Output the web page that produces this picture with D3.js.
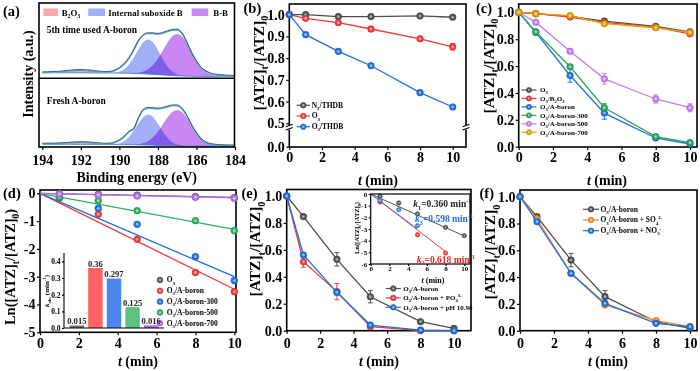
<!DOCTYPE html>
<html><head><meta charset="utf-8">
<script src="https://cdn.jsdelivr.net/npm/d3@7/dist/d3.min.js"></script>
<style>
html,body{margin:0;padding:0;background:#fff;}
svg{display:block;font-family:"Liberation Serif","Times New Roman",serif;font-weight:bold;}
</style></head><body>
<svg id="fig" width="700" height="371" viewBox="0 0 700 371"></svg>
<script>
// ================= DATA =================
// (a) XPS B 1s
const energy=[194,193.75,193.5,193.25,193,192.75,192.5,192.25,192,191.75,191.5,191.25,191,190.75,190.5,190.25,190,189.75,189.5,189.25,189,188.75,188.5,188.25,188,187.75,187.5,187.25,187,186.75,186.5,186.25,186,185.75,185.5,185.25,185,184.75,184.5,184.25,184];
const energyTicks=[194,192,190,188,186,184];
const xpsLegend=["B_{2}O_{3}","Internal suboxide B","B-B"];
const usedBackground=[4.3,4.3,4.3,4.2,4.2,4.2,4.2,4.1,4.1,4.1,4.1,4.0,4.0,4.0,4.0,3.9,3.9,3.8,3.7,3.6,3.4,3.2,2.9,2.6,2.3,2.0,1.7,1.4,1.2,1.0,0.8,0.7,0.6,0.55,0.5,0.5,0.45,0.4,0.4,0.35,0.3];
const usedRaw=[4.35,4.4,4.55,4.7,5.1,5.6,6.1,6.5,6.6,6.4,6.0,5.4,4.9,4.6,4.8,6.0,8.7,12.7,18.7,27,36.3,41.7,43.3,43.3,42.7,43.7,45.3,46.7,47,43.3,34.3,23.7,15.3,8.7,5.3,3.0,2.0,1.5,1.1,0.8,0.6];
const usedB2O3=[0.04,0.1,0.25,0.51,0.9,1.41,1.94,2.35,2.5,2.35,1.94,1.41,0.9,0.51,0.25,0.1,0.04,0,0,0,0,0,0,0,0,0,0,0,0,0,0,0,0,0,0,0,0,0,0,0,0];
const usedSuboxide=[0,0,0,0,0,0,0,0,0,0,0,0,0,0,0.14,0.49,1.5,4.0,8.6,15.9,24.5,31.8,34.7,31.8,24.5,15.9,8.6,4.0,1.5,0.49,0.14,0,0,0,0,0,0,0,0,0,0];
const usedBB=[0,0,0,0,0,0,0,0,0,0,0,0,0,0,0,0,0,0,0,0.32,0.88,2.2,4.8,9.3,16.0,24.3,32.9,39.4,41.9,39.4,32.9,24.3,16.0,9.3,4.8,2.2,0.88,0.32,0,0,0];
const freshBackground=[2.8,2.8,2.8,2.7,2.7,2.7,2.7,2.6,2.6,2.6,2.6,2.5,2.5,2.5,2.5,2.4,2.4,2.3,2.3,2.2,2.1,2.0,1.9,1.8,1.6,1.5,1.35,1.2,1.1,1.0,0.95,0.9,0.85,0.8,0.8,0.75,0.75,0.7,0.7,0.7,0.7];
const freshRaw=[2.85,2.9,3.0,3.1,3.35,3.7,4.0,4.3,4.4,4.3,4.0,3.6,3.2,2.9,3.0,4.0,6.5,10,15,18,29,37,38.7,38.5,38,38.7,40,41.2,41.2,38,31,21.5,13.7,7.5,4,2.5,1.8,1.5,1.3,1.2,1.1];
const freshB2O3=[0.03,0.07,0.18,0.37,0.65,1.01,1.4,1.69,1.8,1.69,1.4,1.01,0.65,0.37,0.18,0.07,0.03,0,0,0,0,0,0,0,0,0,0,0,0,0,0,0,0,0,0,0,0,0,0,0,0];
const freshSuboxide=[0,0,0,0,0,0,0,0,0,0,0,0,0,0,0.12,0.43,1.3,3.5,7.6,14.0,21.6,28.0,30.5,28.0,21.6,14.0,7.6,3.5,1.3,0.43,0.12,0,0,0,0,0,0,0,0,0,0];
const freshBB=[0,0,0,0,0,0,0,0,0,0,0,0,0,0,0,0,0,0,0,0.27,0.76,1.9,4.1,8.0,13.7,20.9,28.3,33.9,36,33.9,28.3,20.9,13.7,8.0,4.1,1.9,0.76,0.27,0,0,0];

// time axis shared by kinetic panels
const tMin=[0,1,3,5,8,10];
const tTicks=[0,2,4,6,8,10];

// (b)
const bLabels=["N_{2}/THDB","O_{3}","O_{3}/THDB"];
const bN2THDB=[1.0,1.0,0.991,0.991,0.994,0.988];
const bO3=[1.0,0.983,0.963,0.934,0.889,0.852];
const bO3THDB=[1.0,0.908,0.831,0.765,0.641,0.575];
const bErrO3=[0,0.004,0.005,0.012,0.006,0.015];
const bYTicks=[0,0.5,0.6,0.7,0.8,0.9,1.0];

// (c)
const cLabels=["O_{3}","O_{3}/B_{2}O_{3}","O_{3}/A-boron","O_{3}/A-boron-300","O_{3}/A-boron-500","O_{3}/A-boron-700"];
const cO3=[1,0.99,0.97,0.935,0.895,0.855];
const cB2O3=[1,0.99,0.965,0.925,0.89,0.84];
const cAB=[1,0.85,0.53,0.25,0.065,0.02];
const cAB300=[1,0.855,0.595,0.29,0.075,0.03];
const cAB500=[1,0.925,0.71,0.505,0.355,0.29];
const cAB700=[1,0.99,0.975,0.915,0.885,0.85];
const cErrAB=[0,0.01,0.05,0.045,0.01,0.01];
const cErrAB300=[0,0.01,0.01,0.03,0.01,0.01];
const cErrAB500=[0,0.01,0.01,0.04,0.03,0.03];
const fracTicks=[0,0.2,0.4,0.6,0.8,1.0];

// (d)
const dLabels=["O_{3}","O_{3}/A-boron","O_{3}/A-boron-300","O_{3}/A-boron-500","O_{3}/A-boron-700"];
const dT=[1,3,5,8,10];
const dO3=[-0.02,-0.04,-0.07,-0.12,-0.16];
const dAB=[-0.17,-0.755,-1.655,-2.85,-3.54];
const dAB300=[-0.16,-0.54,-1.115,-2.28,-3.14];
const dAB500=[-0.144,-0.264,-0.624,-0.983,-1.343];
const dAB700=[-0.024,-0.06,-0.096,-0.144,-0.18];
const dFitEnd=[-0.15,-3.45,-3.0,-1.3,-0.16];   // fitted ln value at t = 10
const dYTicks=[0,-1,-2,-3,-4,-5];
const kobs=[0.015,0.36,0.297,0.125,0.016];
const kobsText=["0.015","0.36","0.297","0.125","0.016"];
const kTicks=[0,0.1,0.2,0.3,0.4];

// (e)
const eLabels=["O_{3}/A-boron","O_{3}/A-boron + PO_{4}^{3-}","O_{3}/A-boron + pH 10.98"];
const eAB=[1,0.847,0.53,0.252,0.067,0.017];
const ePO4=[1,0.512,0.29,0.03,0.0,0.0];
const ePH=[1,0.562,0.285,0.042,0.005,0.0];
const eErrAB=[0,0.01,0.05,0.045,0.008,0.008];
const eErrPO4=[0,0.04,0.06,0.01,0,0];
const eErrPH=[0,0.015,0.02,0.01,0,0];
// (e) inset
const insT=[1,3,5,8,10];
const insAB=[-0.2,-0.77,-1.71,-2.86,-3.57];
const insPO4T=[1,5,8];
const insPO4=[-0.69,-3.49,-5.06];
const insPHT=[1,3,5];
const insPH=[-0.54,-1.34,-2.71];
const insFitAB=[0,10,-3.6];     // [t0,t1,value at t1]
const insFitPO4=[0,8,-4.94];
const insFitPH=[0,5,-2.99];
const insYTicks=[0,-1,-2,-3,-4,-5,-6];
const kText=["k_{1}=0.360 min^{-1}","k_{3}=0.598 min^{-1}","k_{2}=0.618 min^{-1}"];

// (f)
const fLabels=["O_{3}/A-boron","O_{3}/A-boron + SO_{4}^{2-}","O_{3}/A-boron + NO_{3}^{-}"];
const fAB=[1,0.851,0.527,0.254,0.067,0.017];
const fSO4=[1,0.833,0.428,0.192,0.075,0.03];
const fNO3=[1,0.813,0.428,0.204,0.055,0.03];
const fErrAB=[0,0.01,0.05,0.045,0.008,0.008];

// ================= HELPERS =================
const svg=d3.select("#fig");
const GRAY="#4f4f4f",RED="#f23a3a",BLUE="#1c6fe3",GREEN="#2fa55e",VIOLET="#c27ff0",GOLD="#e3a100",ORANGE="#f7901e";

function rich(sel,str,fs){
  let off=0;
  str.split(/(_\{[^}]*\}|\^\{[^}]*\}|\*[^*]*\*)/).filter(s=>s).forEach(p=>{
    let target=0,size=fs,txt=p,it=false;
    if(p[0]==="_"){target=fs*0.28;size=fs*0.66;txt=p.slice(2,-1);}
    else if(p[0]==="^"){target=-fs*0.42;size=fs*0.66;txt=p.slice(2,-1);}
    else if(p[0]==="*"){it=true;txt=p.slice(1,-1);}
    const ts=sel.append("tspan").attr("dy",target-off).attr("font-size",size).text(txt);
    if(it) ts.attr("font-style","italic");
    off=target;
  });
}
function txt(g,x,y,str,fs,o={}){
  const t=g.append("text").attr("x",x).attr("y",y).attr("font-size",fs).attr("fill",o.fill||"#000");
  if(o.anchor) t.attr("text-anchor",o.anchor);
  if(o.rot) t.attr("transform",`rotate(-90,${x},${y})`);
  rich(t,str,fs);
  return t;
}
function ylab(g,xc,yc,str,fs){ return txt(g,xc+fs*0.34,yc,str,fs,{anchor:"middle",rot:true}); }
function frame(g,b,w=1.6){
  g.append("rect").attr("x",b.x0).attr("y",b.y0).attr("width",b.x1-b.x0).attr("height",b.y1-b.y0)
   .attr("fill","none").attr("stroke","#000").attr("stroke-width",w);
}
function styleAxis(a,fs){
  a.attr("font-family",null).attr("font-size",fs);
  a.select(".domain").remove();
  a.selectAll("line").attr("stroke","#000").attr("stroke-width",1.2);
  a.selectAll("text").attr("fill","#000");
}
function axes(g,x,y,b,o){
  const fs=o.fs||14;
  const ax=g.append("g").attr("transform",`translate(0,${b.y1})`)
    .call(d3.axisBottom(x).tickValues(o.xt).tickSize(o.ts||3).tickPadding(o.xpad).tickFormat(o.xf||(d=>String(d))));
  styleAxis(ax,fs);
  if(o.yt){
    const ay=g.append("g").attr("transform",`translate(${b.x0},0)`)
      .call(d3.axisLeft(y).tickValues(o.yt).tickSize(o.ts||3).tickPadding(o.ypad||1.5).tickFormat(o.yf||(d=>String(d))));
    styleAxis(ay,fs);
  }
}
function marker(g,cx,cy,color,r=3.3){
  g.append("circle").attr("cx",cx).attr("cy",cy).attr("r",r).attr("fill",color)
    .attr("stroke",d3.color(color).darker(0.5)).attr("stroke-width",0.6);
  g.append("circle").attr("cx",cx).attr("cy",cy).attr("r",r*0.42).attr("fill","#fff").attr("fill-opacity",0.55);
}
function series(g,x,y,t,v,color,o={}){
  if(o.line!==false){
    g.append("path").datum(t.map((ti,i)=>[ti,v[i]]))
      .attr("d",d3.line().x(d=>x(d[0])).y(d=>y(d[1])))
      .attr("fill","none").attr("stroke",color).attr("stroke-width",o.lw||1.3);
  }
  if(o.err){
    t.forEach((ti,i)=>{
      const e=o.err[i]; if(!e) return;
      const cx=x(ti),a=y(v[i]-e),bb=y(v[i]+e);
      g.append("path").attr("d",`M${cx},${a}V${bb}M${cx-2.5},${a}h5M${cx-2.5},${bb}h5`)
        .attr("stroke",color).attr("stroke-width",1).attr("fill","none");
    });
  }
  t.forEach((ti,i)=>marker(g,x(ti),y(v[i]),color,o.r||3.3));
}
function legend(g,items,x,y0,dy,o){
  items.forEach((it,i)=>{
    const yy=y0+i*dy;
    if(o.half) g.append("line").attr("x1",x-o.half).attr("x2",x+o.half).attr("y1",yy).attr("y2",yy)
      .attr("stroke",it.color).attr("stroke-width",1.2);
    marker(g,x,yy,it.color,o.r||2.8);
    txt(g,x+o.tx,yy+o.fs*0.33,it.label,o.fs);
  });
}
function panelLabel(x,y,s){ txt(svg,x,y,s,14.5); }

// ================= (a) =================
(function(){
  const g=svg.append("g");
  const b={x0:39,x1:234.5,y0:3,y1:147};
  const x=d3.scaleLinear().domain([194,184]).range([42.3,235]);
  const yU=d3.scaleLinear().domain([0,50]).range([77,27]);
  const yL=d3.scaleLinear().domain([0,50]).range([147,97]);
  g.append("clipPath").attr("id","clipA").append("rect").attr("x",b.x0).attr("y",b.y0).attr("width",b.x1-b.x0).attr("height",b.y1-b.y0);
  const cg=g.append("g").attr("clip-path","url(#clipA)");
  const fills=["#f7a9a9","#a2aef6","#c987f4"];
  function spectrum(y,bg,raw,comps){
    comps.forEach((c,k)=>{
      const area=d3.area().x((d,i)=>x(energy[i])).y0((d,i)=>y(bg[i])).y1((d,i)=>y(bg[i]+c[i])).curve(d3.curveMonotoneX);
      cg.append("path").datum(c).attr("d",area).attr("fill",fills[k]).style("mix-blend-mode","multiply");
    });
    const ln=d3.line().x((d,i)=>x(energy[i])).y(d=>y(d)).curve(d3.curveMonotoneX);
    cg.append("path").datum(bg).attr("d",ln).attr("fill","none").attr("stroke","#3d7fd6").attr("stroke-width",0.8);
    cg.append("path").datum(raw).attr("d",ln).attr("fill","none").attr("stroke","#3fb7ea").attr("stroke-width",1.3);
    cg.append("path").datum(raw).attr("d",ln).attr("fill","none").attr("stroke","#333").attr("stroke-width",0.8).attr("transform","translate(0,-0.9)");
  }
  spectrum(yU,usedBackground,usedRaw,[usedB2O3,usedSuboxide,usedBB]);
  spectrum(yL,freshBackground,freshRaw,[freshB2O3,freshSuboxide,freshBB]);
  g.append("line").attr("x1",b.x0).attr("x2",b.x1).attr("y1",78.3).attr("y2",78.3).attr("stroke","#000").attr("stroke-width",1.5);
  frame(g,b);
  axes(g,x,null,b,{xt:energyTicks,xpad:5,fs:14});
  // legend
  const sw=[[43.3,58],[88.3,105],[191.7,208.3]], tx=[61.7,108.3,213.3];
  xpsLegend.forEach((l,i)=>{
    g.append("rect").attr("x",sw[i][0]).attr("y",8.5).attr("width",sw[i][1]-sw[i][0]).attr("height",7.5).attr("fill",fills[i]);
    txt(g,tx[i],15.5,l,8.8);
  });
  txt(g,46.7,32.5,"5th time used A-boron",9.5);
  txt(g,46.7,104,"Fresh A-boron",9.5);
  ylab(g,28.3,74,"Intensity (a.u.)",14);
  txt(g,(b.x0+b.x1)/2,182,"Binding energy (eV)",14,{anchor:"middle"});
  panelLabel(3,16,"(a)");
})();

// ================= (b) =================
(function(){
  const g=svg.append("g");
  const b={x0:289.3,x1:466,y0:4,y1:147};
  const x=d3.scaleLinear().domain([0,10]).range([289.3,452.7]);
  const y=d3.scaleLinear().domain([0,0.5,1.05]).range([146.7,123.3,3.8]);
  frame(g,b);
  axes(g,x,y,b,{xt:tTicks,xpad:2,yt:bYTicks,yf:d3.format(".1f"),fs:14});
  // axis break
  [b.x0,b.x1].forEach(xx=>{
    g.append("rect").attr("x",xx-3).attr("y",125).attr("width",6).attr("height",4.5).attr("fill","#fff");
    g.append("path").attr("d",`M${xx-3.5},${126.8}L${xx+3.5},${124.2}M${xx-3.5},${130}L${xx+3.5},${127.4}`)
      .attr("stroke","#000").attr("stroke-width",1.1).attr("fill","none");
  });
  series(g,x,y,tMin,bN2THDB,GRAY);
  series(g,x,y,tMin,bO3,RED,{err:bErrO3});
  series(g,x,y,tMin,bO3THDB,BLUE);
  legend(g,[{label:bLabels[0],color:GRAY},{label:bLabels[1],color:RED},{label:bLabels[2],color:BLUE}],303.3,105.3,10.7,{half:6.7,tx:8.4,fs:7.5});
  ylab(g,258.3,63,"[ATZ]_{t}/[ATZ]_{0}",15.5);
  txt(g,378,184.5,"*t* (min)",14,{anchor:"middle"});
  panelLabel(243.5,13,"(b)");
})();

// ================= (c) =================
(function(){
  const g=svg.append("g");
  const b={x0:518.7,x1:697,y0:4,y1:147};
  const x=d3.scaleLinear().domain([0,10]).range([518.7,690]);
  const y=d3.scaleLinear().domain([0,1]).range([146.7,12.3]);
  frame(g,b);
  axes(g,x,y,b,{xt:tTicks,xpad:2,yt:fracTicks,yf:d3.format(".1f"),fs:14});
  series(g,x,y,tMin,cO3,GRAY);
  series(g,x,y,tMin,cB2O3,RED);
  series(g,x,y,tMin,cAB,BLUE,{err:cErrAB});
  series(g,x,y,tMin,cAB300,GREEN,{err:cErrAB300});
  series(g,x,y,tMin,cAB500,VIOLET,{err:cErrAB500});
  series(g,x,y,tMin,cAB700,GOLD);
  const cols=[GRAY,RED,BLUE,GREEN,VIOLET,GOLD];
  legend(g,cLabels.map((l,i)=>({label:l,color:cols[i]})),529,90,8.45,{half:7.5,tx:11,fs:7,r:2.6});
  ylab(g,488.3,66,"[ATZ]_{t}/[ATZ]_{0}",15.5);
  txt(g,607,184.5,"*t* (min)",14,{anchor:"middle"});
  panelLabel(476,13,"(c)");
})();

// ================= (d) =================
(function(){
  const g=svg.append("g");
  const b={x0:40,x1:236,y0:190,y1:332.3};
  const x=d3.scaleLinear().domain([0,10]).range([40,234.3]);
  const y=d3.scaleLinear().domain([-5,0]).range([332.3,193.3]);
  frame(g,b);
  axes(g,x,y,b,{xt:tTicks,xpad:3,yt:dYTicks,fs:14});
  const cols=["#5a5a5a",RED,BLUE,"#2fb05e","#b46ff0"];
  const sets=[dO3,dAB,dAB300,dAB500,dAB700];
  sets.forEach((s,i)=>{
    g.append("line").attr("x1",x(0)).attr("y1",y(0)).attr("x2",x(10)).attr("y2",y(dFitEnd[i]))
      .attr("stroke",cols[i]).attr("stroke-width",1.3);
  });
  sets.forEach((s,i)=>series(g,x,y,dT,s,cols[i],{line:false,r:3.4}));
  legend(g,dLabels.map((l,i)=>({label:l,color:cols[i]})),160,280,10.8,{tx:6.7,fs:7.5,r:2.9});
  // inset bar chart
  const ib={x0:64,x1:164,y0:253,y1:328};
  const bx=d3.scaleBand().domain(d3.range(kobs.length)).range([ib.x0,ib.x1]).paddingInner(0.22).paddingOuter(0.3);
  const by=d3.scaleLinear().domain([0,0.45]).range([ib.y1,ib.y0]);
  const barCols=["#6e6e6e","#ff6464","#4a88ee","#5ec184","#b26cec"];
  g.selectAll(".bar").data(kobs).enter().append("rect")
    .attr("x",(d,i)=>bx(i)).attr("width",bx.bandwidth()).attr("y",d=>by(d)).attr("height",d=>by(0)-by(d))
    .attr("fill",(d,i)=>barCols[i]);
  kobs.forEach((d,i)=>txt(g,bx(i)+bx.bandwidth()/2,by(d)-1.3,kobsText[i],8.6,{anchor:"middle",fill:"#222"}));
  g.append("path").attr("d",`M${ib.x0},${ib.y0}V${ib.y1}H${ib.x1}`).attr("fill","none").attr("stroke","#000").attr("stroke-width",1.1);
  const ay=g.append("g").attr("transform",`translate(${ib.x0},0)`)
    .call(d3.axisLeft(by).tickValues(kTicks).tickSize(2).tickPadding(1.5).tickFormat(d3.format(".1f")));
  styleAxis(ay,7.5);
  ylab(g,46.5,291,"*k*_{obs} (min^{-1})",7);
  ylab(g,10,267,"Ln([ATZ]_{t}/[ATZ]_{0})",14.5);
  txt(g,138,366,"*t* (min)",14,{anchor:"middle"});
  panelLabel(3,198,"(d)");
})();

// ================= (e) =================
(function(){
  const g=svg.append("g");
  const b={x0:286.7,x1:471,y0:189.5,y1:330.7};
  const x=d3.scaleLinear().domain([0,10]).range([286.7,454]);
  const y=d3.scaleLinear().domain([0,1]).range([330.7,196]);
  frame(g,b);
  axes(g,x,y,b,{xt:tTicks,xpad:4.4,yt:fracTicks,yf:d3.format(".1f"),fs:14});
  series(g,x,y,tMin,eAB,GRAY,{err:eErrAB});
  series(g,x,y,tMin,ePO4,RED,{err:eErrPO4});
  series(g,x,y,tMin,ePH,BLUE,{err:eErrPH});
  legend(g,eLabels.map((l,i)=>({label:l,color:[GRAY,RED,BLUE][i]})),393.3,288.5,9.4,{half:7.5,tx:10,fs:7,r:2.8});
  // inset
  const ib={x0:370.7,x1:470,y0:194,y1:264};
  const ix=d3.scaleLinear().domain([0,10]).range([370.7,464.3]);
  const iy=d3.scaleLinear().domain([-6,0]).range([264,194]);
  g.append("rect").attr("x",ib.x0).attr("y",ib.y0).attr("width",ib.x1-ib.x0).attr("height",ib.y1-ib.y0).attr("fill","#fff");
  const fits=[[insFitAB,"#555"],[insFitPO4,"#f23a3a"],[insFitPH,"#3a84e8"]];
  fits.forEach(([f,c])=>g.append("line").attr("x1",ix(f[0])).attr("y1",iy(0)).attr("x2",ix(f[1])).attr("y2",iy(f[2])).attr("stroke",c).attr("stroke-width",1));
  series(g,ix,iy,insT,insAB,"#555",{line:false,r:2.2});
  series(g,ix,iy,insPO4T,insPO4,"#f23a3a",{line:false,r:2.2});
  series(g,ix,iy,insPHT,insPH,"#3a84e8",{line:false,r:2.2});
  g.append("rect").attr("x",ib.x0).attr("y",ib.y0).attr("width",ib.x1-ib.x0).attr("height",ib.y1-ib.y0).attr("fill","none").attr("stroke","#000").attr("stroke-width",1.2);
  axes(g,ix,iy,ib,{xt:tTicks,xpad:0.5,yt:insYTicks,ypad:1.5,fs:7,ts:2});
  ylab(g,356.5,228,"Ln([ATZ]_{t}/[ATZ]_{0})",6.5);
  txt(g,433,282.5,"*t* (min)",8,{anchor:"middle"});
  const kc=["#222","#1c6fe3","#f02020"], kx=[413.3,415,416.7], ky=[207,222.3,262.5];
  kText.forEach((s,i)=>txt(g,kx[i],ky[i],s.replace(/^k/,"*k*"),9.5,{fill:kc[i]}));
  ylab(g,255,249,"[ATZ]_{t}/[ATZ]_{0}",15.5);
  txt(g,379,366,"*t* (min)",14,{anchor:"middle"});
  panelLabel(241.5,198,"(e)");
})();

// ================= (f) =================
(function(){
  const g=svg.append("g");
  const b={x0:520,x1:697,y0:190,y1:330.7};
  const x=d3.scaleLinear().domain([0,10]).range([520,690]);
  const y=d3.scaleLinear().domain([0,1]).range([330.7,196.7]);
  frame(g,b);
  axes(g,x,y,b,{xt:tTicks,xpad:4.4,yt:fracTicks,yf:d3.format(".1f"),fs:14});
  series(g,x,y,tMin,fAB,GRAY,{err:fErrAB});
  series(g,x,y,tMin,fSO4,ORANGE);
  series(g,x,y,tMin,fNO3,BLUE);
  legend(g,fLabels.map((l,i)=>({label:l,color:[GRAY,ORANGE,BLUE][i]})),591,209.3,10.7,{half:8,tx:9.5,fs:7.5,r:2.8});
  ylab(g,490,252,"[ATZ]_{t}/[ATZ]_{0}",15.5);
  txt(g,608,366,"*t* (min)",14,{anchor:"middle"});
  panelLabel(479.5,198,"(f)");
})();
</script>
</body></html>
